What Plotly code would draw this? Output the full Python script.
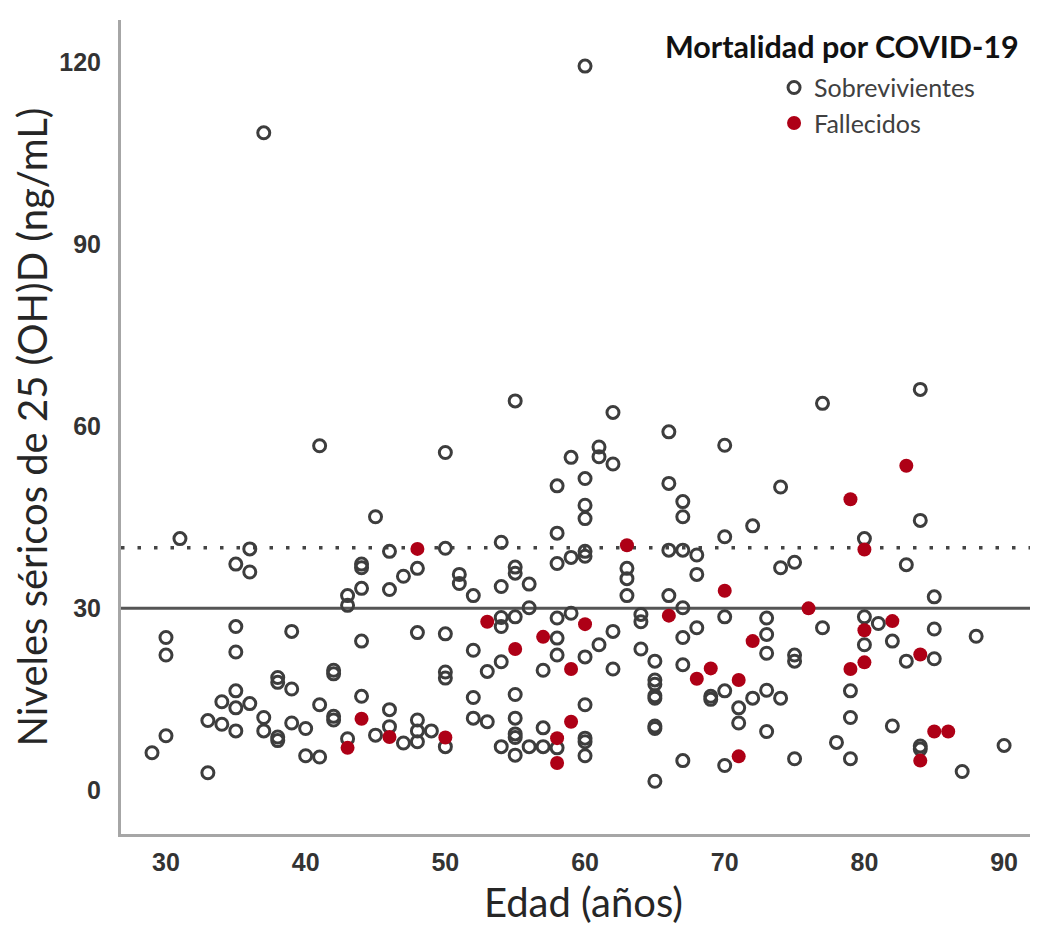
import plotly.graph_objects as go

# ---- Data ----
# Survivors (open circles): age (years), serum 25(OH)D (ng/mL)
surv_age = [31, 36, 35, 36, 44, 44, 44, 43, 43, 35, 39, 30, 30, 35, 44, 38, 38, 39, 42, 42,
            44, 35, 34, 35, 36, 41, 33, 34, 35, 37, 37, 38, 38, 39, 40, 42, 42, 30, 29, 40,
            41, 33, 43,
            45, 60, 60, 58, 46, 50, 54, 60, 60, 59, 58, 48, 47, 46, 51, 51, 52, 55, 55, 56,
            54, 56, 55, 54, 54, 58, 59, 58, 52, 48, 50, 58, 60, 61, 54, 53, 50, 50, 57, 52,
            55, 60, 46, 48, 46, 45, 47, 48, 48, 49, 50, 52, 53, 55, 55, 55, 54, 55, 56, 57,
            57, 58, 60, 60, 60,
            67, 72, 70, 66, 67, 68, 63, 63, 68, 74, 75, 63, 66, 67, 64, 64, 70, 62, 62, 64,
            65, 65, 65, 65, 65, 65, 65, 65, 67, 68, 67, 69, 69, 70, 71, 71, 72, 73, 73, 73,
            73, 73, 74, 75, 75, 75, 77, 70, 67,
            77, 84, 84, 80, 83, 85, 80, 81, 85, 88, 80, 82, 83, 85, 79, 79, 82, 78, 79, 84,
            84, 87, 90,
            50, 55, 59, 61, 61, 62, 62, 60, 58, 66, 66, 67,
            37, 41, 60, 70, 74]
surv_val = [41.5, 39.8, 37.3, 36.0, 37.3, 36.7, 33.3, 32.1, 30.5, 27.0, 26.2, 25.2, 22.3, 22.8,
            24.6, 18.6, 17.8, 16.7, 19.8, 19.2, 15.5, 16.4, 14.6, 13.6, 14.3, 14.1, 11.5, 10.9,
            9.8, 12.0, 9.8, 8.2, 8.8, 11.1, 10.2, 11.6, 12.2, 9.0, 6.2, 5.7, 5.5, 2.9, 8.5,
            45.1, 44.8, 47.0, 42.4, 39.4, 39.9, 40.9, 39.4, 38.6, 38.4, 37.4, 36.6, 35.3, 33.1,
            35.6, 34.1, 32.1, 36.8, 35.8, 34.0, 33.6, 30.1, 28.6, 28.5, 27.0, 28.4, 29.2, 25.1,
            23.1, 26.0, 25.8, 22.3, 22.0, 24.0, 21.2, 19.6, 19.5, 18.5, 19.8, 15.3, 15.8, 14.1,
            13.3, 11.6, 10.5, 9.1, 7.8, 9.8, 8.0, 9.8, 7.2, 11.9, 11.3, 11.9, 9.3, 8.7, 7.2,
            5.8, 7.2, 7.2, 10.3, 7.0, 8.6, 8.0, 5.7,
            45.1, 43.6, 41.8, 39.6, 39.6, 38.8, 36.6, 34.9, 35.6, 36.7, 37.6, 32.1, 32.1, 30.1,
            29.0, 27.8, 28.6, 26.2, 20.0, 23.3, 21.3, 18.2, 17.5, 15.6, 15.2, 10.6, 10.2, 1.5,
            25.2, 26.8, 20.7, 15.5, 15.0, 16.4, 13.6, 11.1, 15.2, 28.4, 25.7, 22.6, 16.5, 9.7,
            15.2, 22.3, 21.3, 5.2, 26.8, 4.1, 4.9,
            63.8, 66.1, 44.5, 41.5, 37.2, 31.9, 28.6, 27.5, 26.6, 25.4, 24.0, 24.6, 21.3, 21.7,
            16.4, 12.0, 10.6, 7.9, 5.2, 6.8, 7.3, 3.1, 7.4,
            55.7, 64.2, 54.9, 56.6, 55.0, 62.3, 53.8, 51.4, 50.2, 59.1, 50.6, 47.6,
            108.4, 56.8, 119.4, 56.9, 50.0]

# Deceased (filled red circles)
dead_age = [44, 43, 48, 53, 60, 57, 55, 59, 46, 50, 58, 58, 59, 63, 70, 66, 68, 69, 71, 72,
            76, 71, 83, 79, 80, 82, 80, 84, 80, 79, 85, 86, 84]
dead_val = [11.8, 7.0, 39.8, 27.8, 27.4, 25.3, 23.3, 20.0, 8.8, 8.7, 8.6, 4.5, 11.3, 40.4,
            32.9, 28.8, 18.4, 20.1, 18.2, 24.6, 30.0, 5.6, 53.5, 48.0, 39.7, 27.9, 26.4, 22.4,
            21.1, 20.0, 9.7, 9.7, 4.9]

x_ticks = [30, 40, 50, 60, 70, 80, 90]
y_ticks = [0, 30, 60, 90, 120]
ref_solid = 30    # ng/mL
ref_dotted = 40   # ng/mL

fig = go.Figure()

fig.add_trace(go.Scatter(
    x=surv_age, y=surv_val, mode="markers", name="Sobrevivientes",
    marker=dict(symbol="circle-open", size=12, color="#3d3d3d", line=dict(width=3)),
))
fig.add_trace(go.Scatter(
    x=dead_age, y=dead_val, mode="markers", name="Fallecidos",
    marker=dict(symbol="circle", size=14, color="#AE0016"),
))

fig.add_shape(type="line", xref="paper", x0=0, x1=1, yref="y", y0=ref_solid, y1=ref_solid,
              line=dict(color="#555555", width=3), layer="below")
fig.add_shape(type="line", xref="paper", x0=0, x1=1, yref="y", y0=ref_dotted, y1=ref_dotted,
              line=dict(color="#444444", width=3.5, dash="3.5px,13px"), layer="below")

tick_font = dict(family="Liberation Sans, Arial, sans-serif", size=25, color="#333333",
                 weight="bold")
title_font = dict(family="Lato, Open Sans, sans-serif", size=40, color="#262626")

fig.add_annotation(
    text="<b>Mortalidad por COVID-19</b>", xref="paper", yref="paper",
    x=0.586, y=0.968, xanchor="left", yanchor="middle", showarrow=False,
    font=dict(family="Lato, Open Sans, sans-serif", size=30.5, color="#111111"),
)

fig.update_layout(
    width=1038, height=938,
    margin=dict(l=113, r=0, t=12, b=112),
    paper_bgcolor="white", plot_bgcolor="white",
    showlegend=True,
    legend=dict(
        font=dict(family="Lato, Open Sans, sans-serif", size=25, color="#404040"),
        x=0.706, xanchor="left", y=0.945, yanchor="top",
        bgcolor="rgba(0,0,0,0)", itemsizing="trace", tracegroupgap=0,
    ),
    xaxis=dict(
        range=[26.78, 93.0], tickvals=x_ticks, ticktext=[str(v) for v in x_ticks],
        showline=True, linecolor="#a6a6a6", linewidth=3, mirror=False,
        showgrid=False, zeroline=False, ticks="", ticklabelstandoff=4,
        tickfont=tick_font,
        title=dict(text="Edad (años)", font=title_font, standoff=14),
    ),
    yaxis=dict(
        range=[-7.2, 127.0], tickvals=y_ticks, ticktext=[str(v) for v in y_ticks],
        showline=True, linecolor="#a6a6a6", linewidth=3, mirror=False,
        showgrid=False, zeroline=False, ticks="", ticklabelstandoff=12,
        tickfont=tick_font,
        title=dict(text="Niveles séricos de 25 (OH)D (ng/mL)", font=title_font, standoff=2),
    ),
)

fig.write_html("out.html")
